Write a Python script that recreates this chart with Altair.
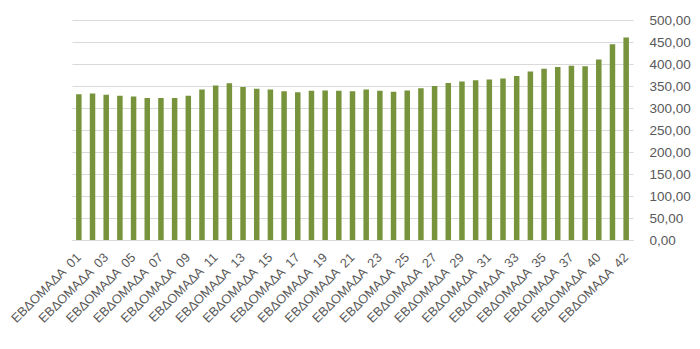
import altair as alt
import pandas as pd

weeks = ["01", "02", "03", "04", "05", "06", "07", "08", "09", "10",
         "11", "12", "13", "14", "15", "16", "17", "18", "19", "20",
         "21", "22", "23", "24", "25", "26", "27", "28", "29", "30",
         "31", "32", "33", "34", "35", "36", "37", "38", "40", "41", "42"]

values = [331, 333, 330, 328, 326, 323, 323, 323, 328, 342,
          351, 356, 348, 344, 342, 338, 336, 339, 340, 339,
          338, 342, 339, 337, 340, 345, 350, 357, 360, 363,
          365, 367, 373, 383, 389, 393, 396, 395, 410, 445, 460]

labels = ["ΕΒΔΟΜΑΔΑ \u00a0" + w for w in weeks]
shown = labels[::2]

df = pd.DataFrame({"week": labels, "value": values})

FONT = "Liberation Sans"
GREY = "#595959"

chart = alt.Chart(df).mark_bar(color="#77933C", size=5.5).encode(
    x=alt.X("week:N", sort=labels, title=None,
            scale=alt.Scale(paddingInner=0.6, paddingOuter=0.3),
            axis=alt.Axis(values=shown, labelAngle=-45, labelAlign="right",
                          labelBaseline="middle", labelPadding=15, ticks=False,
                          domainColor="#d9d9d9", labelColor=GREY, labelFont=FONT,
                          labelFontSize=12.8, grid=False, labelOverlap=False)),
    y=alt.Y("value:Q", title=None,
            scale=alt.Scale(domain=[0, 500], nice=False),
            axis=alt.Axis(orient="right", values=list(range(0, 501, 50)),
                          labelExpr="replace(format(datum.value, '.2f'), '.', ',')",
                          ticks=False, domain=False, gridColor="#d9d9d9",
                          labelColor=GREY, labelFont=FONT, labelFontSize=13.5,
                          labelPadding=16)),
).properties(
    width=561, height=220,
    autosize=alt.AutoSizeParams(type="none"),
    padding={"left": 72, "top": 20, "right": 67, "bottom": 109},
    background="white",
).configure_view(stroke=None)

chart.save("out.html", embed_options={"renderer": "svg", "actions": False})
